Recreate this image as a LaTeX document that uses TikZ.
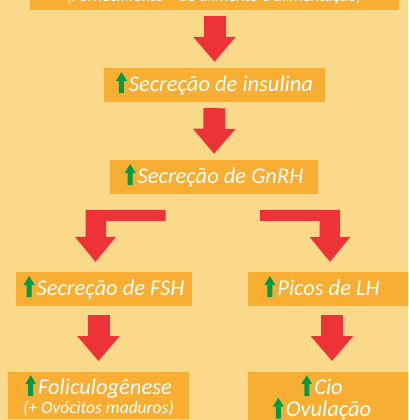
\documentclass[tikz,border=0pt]{standalone}
\usepackage{fontspec}
\setmainfont{Carlito}
\usetikzlibrary{arrows.meta,calc,positioning}

\definecolor{bgyellow}{RGB}{250,217,139}
\definecolor{boxorange}{RGB}{248,174,51}
\definecolor{arrowred}{RGB}{237,50,56}
\definecolor{upgreen}{RGB}{0,154,72}

% small green "increase" arrow in front of the texts
\newcommand{\upmark}{\tikz[x=1pt,y=1pt,baseline=2pt]\fill[upgreen] (3,0) -- (3,12) -- (0,12) -- (5.5,21) -- (11,12) -- (8,12) -- (8,0) -- cycle;\hspace{2pt}}

\tikzset{
  boxbase/.style={fill=boxorange, text=white, font=\itshape\fontsize{22.5}{22.5}\selectfont, inner xsep=6pt},
  box/.style={boxbase, inner ysep=0pt, minimum height=34pt, text height=15pt, text depth=3pt},
  bigarrow/.style={arrowred, line width=22pt, -{Triangle[width=41pt,length=25pt]}},
}

\begin{document}
\begin{tikzpicture}[x=1pt,y=-1pt]
	\fill[bgyellow] (0,0) rectangle (408,420);
	\useasboundingbox (0,0) rectangle (408,420);
	\clip (0,0) rectangle (408,420);
	
	% boxes
	\node[boxbase, anchor=base, minimum width=369pt, inner ysep=4.5pt, text height=12pt, text depth=4pt, font=\itshape\fontsize{16.5}{16.5}\selectfont] (diet) at (214.5,2) {(Fornecimento + de alimento e alimentação)};
	\node[box, minimum width=221pt] (insulina) at (214.5,85) {\upmark Secreção de insulina};
	\node[box, minimum width=208pt] (gnrh) at (214,177) {\upmark Secreção de GnRH};
	\node[box, minimum width=176pt] (fsh) at (104,289) {\upmark Secreção de FSH};
	\node[box, minimum width=148pt] (lh) at (322,289) {\upmark Picos de LH};
	\node[boxbase, anchor=north, minimum width=181pt, inner ysep=3pt, align=center] (folic) at (98.5,372) {\upmark Foliculogênese\\[-3pt]{\fontsize{17.5}{17.5}\selectfont(+ Ovócitos maduros)}};
	\node[boxbase, anchor=north, minimum width=148pt, inner ysep=3pt, align=center] (cio) at (322,372) {\upmark Cio\\\upmark Ovulação};
	\fill[boxorange] (lh.north east) rectangle ([xshift=20pt]lh.south east);
	\fill[boxorange] (cio.north east) rectangle ([xshift=20pt]cio.south east);
	
	% red arrows
	\draw[bigarrow, shorten <=5pt, shorten >=6pt] (diet.south) -- (insulina.north);
	\draw[bigarrow, shorten <=6pt, shorten >=6pt] (insulina.south) -- (gnrh.north);
	\fill[arrowred] ($(fsh.north)+(-8.5,-10)$) -- ++(-20.5,-25) -- ++(10.5,0) -- ++(0,-27) -- ++(80,0) -- ++(0,11) -- ++(-59.5,0) -- ++(0,16) -- ++(10,0) -- cycle;
	\fill[arrowred] ($(lh.north)+(8,-10)$) -- ++(20.5,-25) -- ++(-10.5,0) -- ++(0,-27) -- ++(-80,0) -- ++(0,11) -- ++(59.5,0) -- ++(0,16) -- ++(-10,0) -- cycle;
	\draw[bigarrow, shorten <=9pt, shorten >=11pt] (folic.north |- fsh.south) -- (folic.north);
	\draw[bigarrow, shorten <=9pt, shorten >=11pt] ([xshift=10pt]lh.south) -- ([xshift=10pt]cio.north);
\end{tikzpicture}
\end{document}
